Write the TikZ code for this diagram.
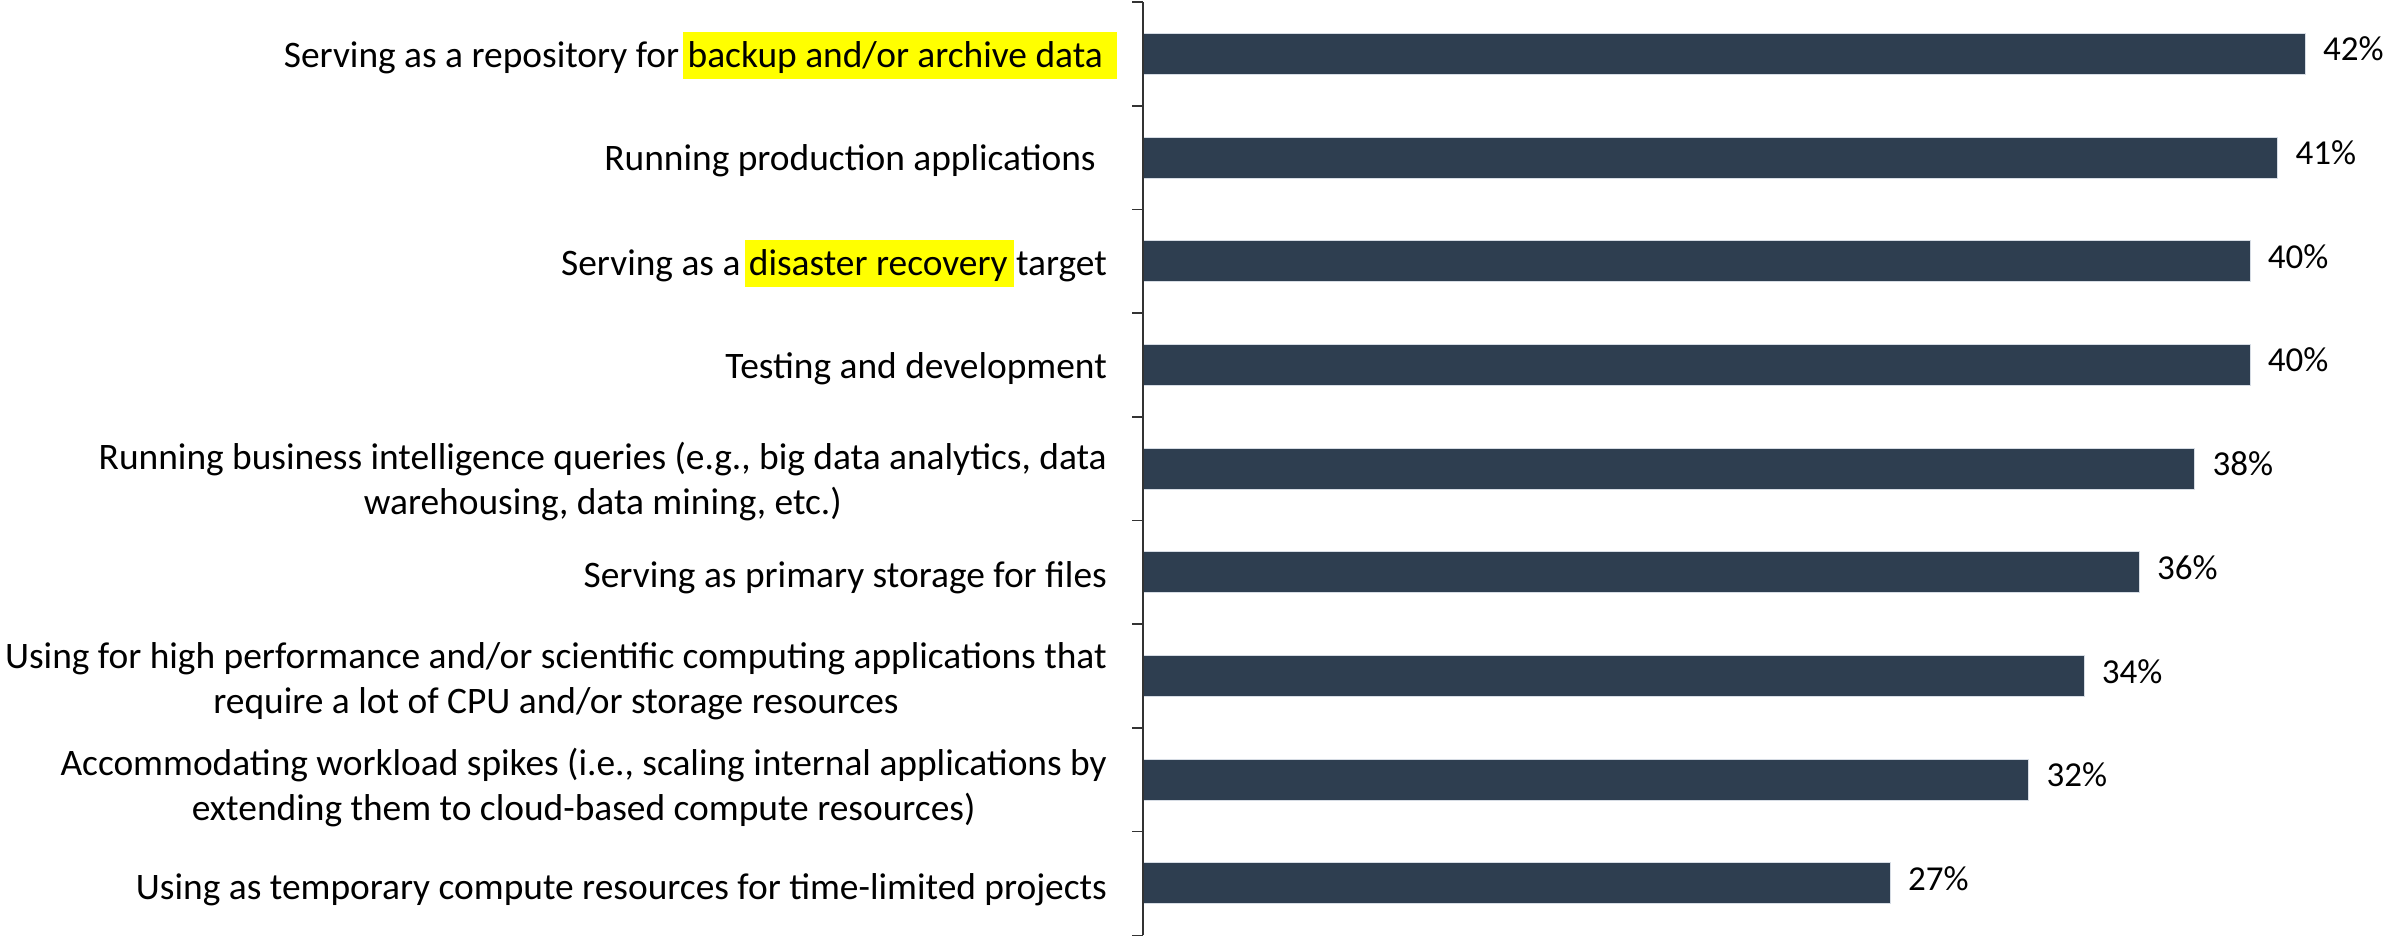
\documentclass[tikz,border=0pt]{standalone}
\usepackage{fontspec}
\setmainfont{Carlito}
\definecolor{barcol}{RGB}{46,62,80}
\definecolor{hly}{RGB}{255,255,0}
\definecolor{baredge}{RGB}{214,220,228}
\newcommand\sst{\rule[-10.4pt]{0pt}{44.4pt}}
\newcommand\hlbox[3]{\hspace{-#1}{\setlength{\fboxsep}{0pt}\colorbox{hly}{\hspace{#1}\rule[-11.8pt]{0pt}{47.2pt}#3\hspace{#2}}}\hspace{-#2}}
\begin{document}
\begin{tikzpicture}[x=1pt,y=-1pt,
  cat/.style={anchor=east,inner sep=0pt,align=center,font=\fontsize{37.4}{45}\selectfont},
  val/.style={anchor=west,inner sep=0pt,font=\fontsize{35}{42}\selectfont},
  bar/.style={fill=barcol,draw=baredge,line width=1pt,anchor=west,inner sep=0pt,minimum height=41pt},
  axisline/.style={draw=black!80,line width=1.6pt}]
\useasboundingbox[fill=white] (0,0) rectangle (2386,937);
% bars and values
\foreach \i/\v in {1/42,2/41,3/40,4/40,5/38,6/36,7/34,8/32,9/27}{
  \node[bar,minimum width={\v*27.667pt}] (b\i) at (1143,{2+(\i-0.5)*103.7}) {};
  \node[val] (v\i) at ([xshift=17pt]b\i.east) {\rule[-9.8pt]{0pt}{32pt}\v\%};
}
% axis
\coordinate (axtop) at (1143,2);
\coordinate (axbot) at (1143,935.3);
\draw[axisline] (axtop) -- (axbot);
\foreach \k in {0,...,9}{
  \coordinate (t\k) at (1143,{2+\k*103.7});
  \draw[axisline] (t\k) -- ++(-11,0);
}
% category labels
\node[cat] (c1) at (1103,{2+0.5*103.7+2}) {Serving as a repository for \hlbox{5pt}{14pt}{backup and/or archive data}};
\node[cat] (c2) at (1096,{2+1.5*103.7+1}) {\sst Running production applications};
\node[cat] (c3) at (1107,{2+2.5*103.7+2}) {Serving as a \hlbox{4pt}{6pt}{disaster recovery} target};
\node[cat] (c4) at (1107,{2+3.5*103.7+2}) {\sst Testing and development};
\node[cat] (c5) at (1107,{2+4.5*103.7+12}) {\sst Running business intelligence queries (e.g., big data analytics, data\\\sst warehousing, data mining, etc.)};
\node[cat] (c6) at (1107,{2+5.5*103.7+3}) {\sst Serving as primary storage for files};
\node[cat] (c7) at (1107,{2+6.5*103.7+3}) {\sst Using for high performance and/or scientific computing applications that\\\sst require a lot of CPU and/or storage resources};
\node[cat] (c8) at (1107,{2+7.5*103.7+6}) {\sst Accommodating workload spikes (i.e., scaling internal applications by\\\sst extending them to cloud-based compute resources)};
\node[cat] (c9) at (1107,{2+8.5*103.7+4}) {\sst Using as temporary compute resources for time-limited projects};
\end{tikzpicture}
\end{document}
